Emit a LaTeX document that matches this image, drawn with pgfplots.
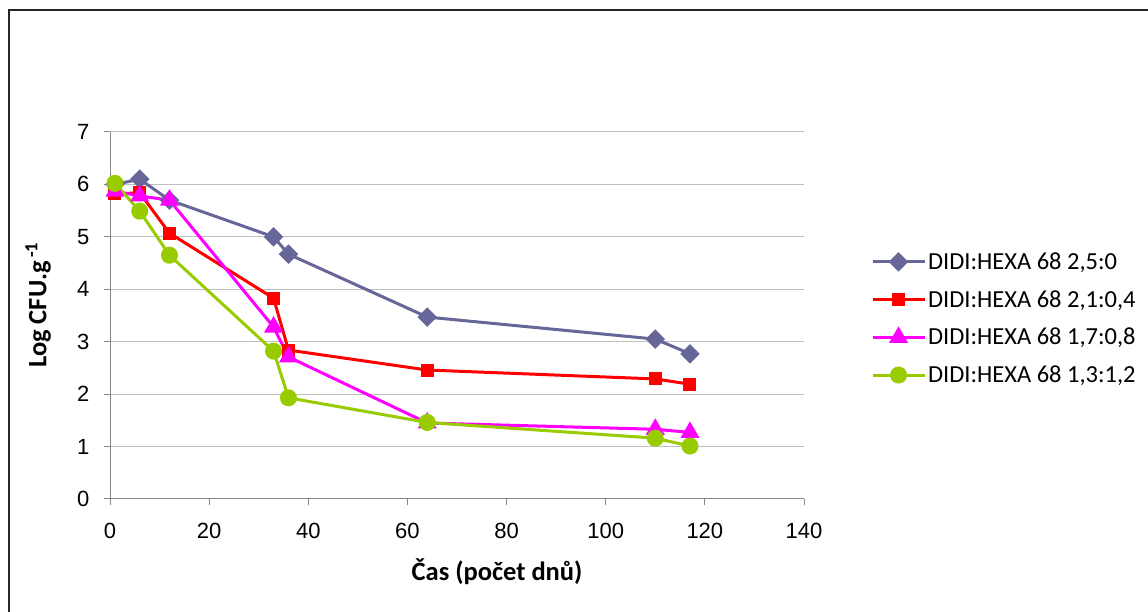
\documentclass[border=0pt]{standalone}
\usepackage{pgfplots}
\pgfplotsset{compat=1.18}
\usepackage{fontspec}
\setmainfont{Carlito}
\newfontfamily\arialf{Liberation Sans}
\definecolor{cblue}{HTML}{666699}
\definecolor{cred}{HTML}{FF0000}
\definecolor{cmag}{HTML}{FF00FF}
\definecolor{cgreen}{HTML}{99CC00}
\definecolor{gridc}{HTML}{BFBFBF}
\definecolor{axc}{HTML}{868686}
\begin{document}
\begin{tikzpicture}[x=1pt,y=1pt]
\path[use as bounding box] (0,0) rectangle (1148,612);
\draw[line width=1.6pt,black!85] (9,0) -- (9,602) -- (1148,602);
\begin{axis}[
  at={(110pt,113pt)}, anchor=south west,
  scale only axis, width=694pt, height=367pt,
  xmin=0, xmax=140, ymin=0, ymax=7,
  xtick distance=20, ytick distance=1,
  axis lines*=left,
  axis line style={axc, line width=1pt},
  tick align=outside,
  major tick length=6pt,
  tick style={axc, line width=1pt},
  ymajorgrids,
  grid style={gridc, line width=1pt},
  /pgf/number format/assume math mode=true,
  ticklabel style={font=\arialf\fontsize{22}{24}\selectfont},
  xticklabel style={yshift=-15pt},
  yticklabel style={xshift=-11pt},
  xlabel={\bfseries Čas (počet dnů)},
  ylabel={\bfseries Log CFU.g\textsuperscript{\,-1}},
  label style={font=\fontsize{26.5}{30}\selectfont},
  xlabel style={at={(axis description cs:0.5577,-0.199)}, anchor=center},
  ylabel style={at={(axis description cs:-0.1037,0.5286)}, anchor=center, rotate=0},
  legend style={at={(1.092,0.492)}, anchor=west, draw=none, fill=none,
    font=\fontsize{24.5}{28}\selectfont, row sep=15.5pt,
    nodes={inner sep=2pt}},
  legend cell align=left,
  legend image code/.code={\draw[mark repeat=2,mark phase=2] plot coordinates {(0pt,0pt)(26pt,0pt)(52pt,0pt)};},
  every axis plot/.append style={line width=3pt},
  clip=false,
]
\addplot[cblue, mark=square*, mark size=5.4pt, mark options={rotate=45, solid}]
 coordinates {(1,6.00)(6,6.10)(12,5.70)(33,5.00)(36,4.67)(64,3.47)(110,3.05)(117,2.77)};
\addplot[cred, mark=square*, mark size=5pt]
 coordinates {(1,5.82)(6,5.84)(12,5.07)(33,3.83)(36,2.84)(64,2.46)(110,2.29)(117,2.19)};
\addplot[cmag, mark=triangle*, mark size=8pt]
 coordinates {(1,5.87)(6,5.78)(12,5.70)(33,3.28)(36,2.71)(64,1.45)(110,1.33)(117,1.27)};
\addplot[cgreen, mark=*, mark size=7pt]
 coordinates {(1,6.02)(6,5.49)(12,4.65)(33,2.82)(36,1.93)(64,1.46)(110,1.16)(117,1.01)};
\legend{{DIDI:HEXA 68 2,5:0}, {DIDI:HEXA 68 2,1:0,4}, {DIDI:HEXA 68 1,7:0,8}, {DIDI:HEXA 68 1,3:1,2}}
\end{axis}
\end{tikzpicture}
\end{document}
